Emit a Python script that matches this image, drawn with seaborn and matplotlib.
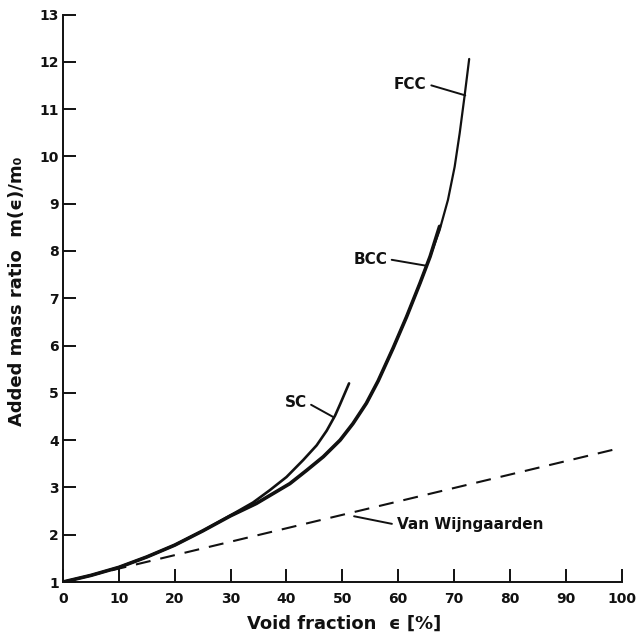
import numpy as np
import pandas as pd
import matplotlib
matplotlib.use("Agg")
import matplotlib.pyplot as plt
import seaborn as sns

# ---- data ----
fcc_eps = [0, 5, 10, 15, 20, 25, 30, 34.6, 37.6, 40.6, 43.6, 46.6, 49.6, 51.9, 54.3,
           56.4, 59.1, 61.5, 63.9, 65.7, 67.4, 68.9, 70.1, 71.0, 71.9, 72.7]
fcc_m   = [1.0, 1.14, 1.31, 1.53, 1.78, 2.08, 2.40, 2.66, 2.87, 3.08, 3.36, 3.65, 4.00, 4.35, 4.78,
           5.25, 5.95, 6.61, 7.32, 7.88, 8.44, 9.08, 9.78, 10.49, 11.30, 12.06]

bcc_eps = [0, 5, 10, 15, 20, 25, 30, 34.6, 37.6, 40.6, 43.6, 46.6, 49.6, 51.9, 54.3,
           56.4, 59.1, 61.5, 63.9, 65.7, 67.4]
bcc_m   = [1.0, 1.14, 1.31, 1.53, 1.78, 2.08, 2.40, 2.66, 2.87, 3.08, 3.36, 3.65, 4.00, 4.35, 4.78,
           5.25, 5.95, 6.61, 7.32, 7.88, 8.52]

sc_eps = [0, 5, 10, 15, 20, 25, 30, 34.0, 37.0, 40.0, 43.0, 45.4, 47.2, 48.7, 49.6, 51.2]
sc_m   = [1.0, 1.14, 1.31, 1.53, 1.78, 2.08, 2.41, 2.68, 2.94, 3.22, 3.58, 3.89, 4.20, 4.52, 4.76, 5.20]

vw_eps = [0, 100]
vw_m   = [1.0, 3.84]

x_ticks = [0, 10, 20, 30, 40, 50, 60, 70, 80, 90, 100]
y_ticks = [1, 2, 3, 4, 5, 6, 7, 8, 9, 10, 11, 12, 13]

sns.set_style("ticks")
plt.rcParams["font.family"] = ["DejaVu Sans"]

fig = plt.figure(figsize=(6.37, 6.39), dpi=100)
ax = fig.add_axes([0.0989, 0.0892, 0.8771, 0.8881])

ink = "#111111"
sns.lineplot(x=vw_eps, y=vw_m, ax=ax, color=ink, lw=1.5, dashes=False,
             linestyle=(0, (7.2, 4.8)))
sns.lineplot(x=sc_eps, y=sc_m, ax=ax, color=ink, lw=1.9)
sns.lineplot(x=fcc_eps, y=fcc_m, ax=ax, color=ink, lw=1.6)
sns.lineplot(x=bcc_eps, y=bcc_m, ax=ax, color=ink, lw=2.6)

ax.set_xlim(0, 100)
ax.set_ylim(1, 13)
ax.set_xticks(x_ticks)
ax.set_yticks(y_ticks)
ax.set_xticklabels([str(t) for t in x_ticks], fontsize=10, fontweight="bold")
ax.set_yticklabels([str(t) for t in y_ticks], fontsize=10, fontweight="bold")
ax.tick_params(axis="both", direction="in", length=9.4, width=1.4, colors=ink)
ax.tick_params(axis="x", pad=7)
ax.tick_params(axis="y", pad=3)

for s in ["top", "right"]:
    ax.spines[s].set_visible(False)
for s in ["left", "bottom"]:
    ax.spines[s].set_linewidth(1.4)
    ax.spines[s].set_color(ink)

ax.set_xlabel("Void fraction  ϵ [%]", fontsize=13, fontweight="bold", color=ink)
ax.set_ylabel("Added mass ratio  m(ϵ)/m₀", fontsize=13, fontweight="bold", color=ink)
ax.xaxis.set_label_coords(0.503, -0.058)
ax.yaxis.set_label_coords(-0.066, 0.513)

lab = dict(fontsize=11, fontweight="bold", color=ink)
arr = dict(arrowstyle="-", color=ink, lw=1.4, shrinkA=1, shrinkB=0)
ax.annotate("FCC", xy=(72.0, 11.29), xytext=(65.1, 11.53), ha="right", va="center",
            arrowprops=dict(relpos=(1, 0.5), **arr), **lab)
ax.annotate("BCC", xy=(64.9, 7.69), xytext=(58.0, 7.83), ha="right", va="center",
            arrowprops=dict(relpos=(1, 0.5), **arr), **lab)
ax.annotate("SC", xy=(48.5, 4.48), xytext=(43.6, 4.80), ha="right", va="center",
            arrowprops=dict(relpos=(1, 0.5), **arr), **lab)
ax.annotate("Van Wijngaarden", xy=(52.1, 2.39), xytext=(59.7, 2.21), ha="left", va="center",
            arrowprops=dict(relpos=(0, 0.5), **arr), **lab)

fig.savefig("out.png", dpi=100, facecolor="white")
